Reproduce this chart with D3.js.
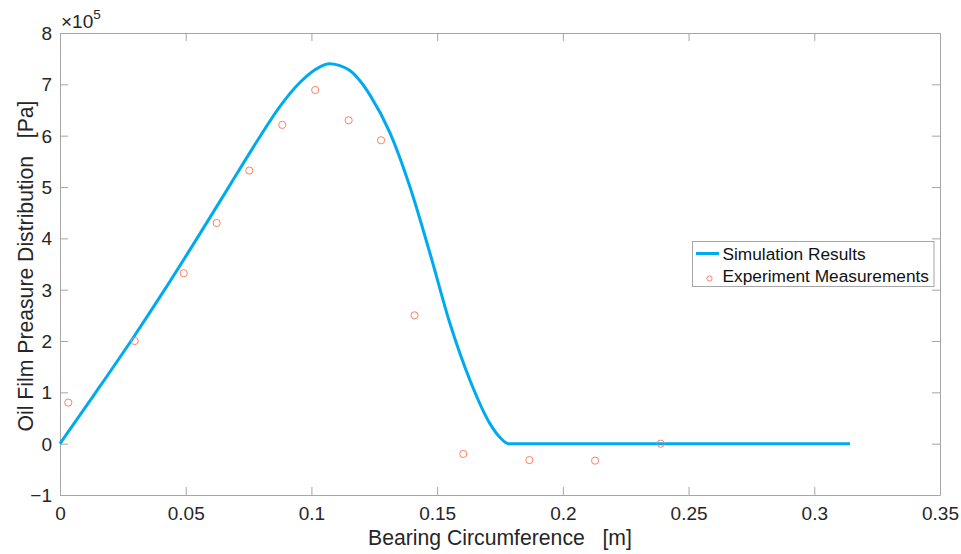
<!DOCTYPE html>
<html>
<head>
<meta charset="utf-8">
<script src="https://cdn.jsdelivr.net/npm/d3@7"></script>
<style>
  body { margin: 0; background: #fff; }
  svg { display: block; font-family: "Liberation Sans", Arial, Helvetica, sans-serif; }
  text { white-space: pre; }
</style>
</head>
<body>
<svg id="chart" width="961" height="554"></svg>
<script>
// Simulation curve (x in m, pressure in ×10^5 Pa)
const simX = [0, 0.0141, 0.0285, 0.0415, 0.0540, 0.0660, 0.0730, 0.0795, 0.0875, 0.0955, 0.1034, 0.1070, 0.1110, 0.1153, 0.1193, 0.1233, 0.1312, 0.1392, 0.1472, 0.1551, 0.1631, 0.1710, 0.1750, 0.1783, 0.3142];
const simY = [0, 0.99, 2.02, 2.99, 3.96, 4.91, 5.47, 5.98, 6.57, 7.04, 7.34, 7.40, 7.37, 7.27, 7.07, 6.79, 6.06, 5.00, 3.70, 2.34, 1.23, 0.39, 0.12, 0, 0];
// Experiment measurements
const expX = [0.0033, 0.0297, 0.0492, 0.0623, 0.0753, 0.0884, 0.1015, 0.1148, 0.1277, 0.1410, 0.1604, 0.1867, 0.2128, 0.2389];
const expY = [0.80, 2.00, 3.32, 4.30, 5.32, 6.21, 6.89, 6.30, 5.91, 2.50, -0.20, -0.32, -0.33, 0.00];
// Axis ticks
const xTicks = [0, 0.05, 0.1, 0.15, 0.2, 0.25, 0.3, 0.35];
const yTicks = [-1, 0, 1, 2, 3, 4, 5, 6, 7, 8];
const seriesNames = ["Simulation Results", "Experiment Measurements"];

const svg = d3.select("#chart");
const L = 60, R = 940, T = 33, B = 495;
const x = d3.scaleLinear().domain([0, 0.35]).range([L, R]);
const y = d3.scaleLinear().domain([-1, 8]).range([B, T]);
const axisColor = "#a6a6a6";
const textColor = "#262626";
const lineColor = "#00aaf0";
const markColor = "#ff7f66";

// axes with inward ticks
const gx = svg.append("g").attr("transform", `translate(0,${B})`)
  .call(d3.axisBottom(x).tickValues(xTicks).tickSizeInner(-8).tickSizeOuter(0).tickPadding(12)
    .tickFormat(d => d === 0 ? "0" : d3.format("")(+d.toFixed(2))));
const gxt = svg.append("g").attr("transform", `translate(0,${T})`)
  .call(d3.axisTop(x).tickValues(xTicks).tickSizeInner(-8).tickSizeOuter(0).tickFormat(""));
const gy = svg.append("g").attr("transform", `translate(${L},0)`)
  .call(d3.axisLeft(y).tickValues(yTicks).tickSizeInner(-8).tickSizeOuter(0).tickPadding(8).tickFormat(d3.format("d")));
const gyr = svg.append("g").attr("transform", `translate(${R},0)`)
  .call(d3.axisRight(y).tickValues(yTicks).tickSizeInner(-8).tickSizeOuter(0).tickFormat(""));

[gx, gxt, gy, gyr].forEach(g => {
  g.selectAll("path.domain").attr("stroke", axisColor).attr("stroke-width", 1);
  g.selectAll(".tick line").attr("stroke", axisColor).attr("stroke-width", 1);
  g.selectAll(".tick text").attr("fill", textColor).style("font-size", "19px")
    .style("font-family", '"Liberation Sans", Arial, Helvetica, sans-serif');
});
gx.selectAll(".tick text").attr("dy", "0.71em");
gy.selectAll(".tick text").attr("dy", "0.35em");

// exponent label
const expo = svg.append("text").attr("x", 61).attr("y", 28).attr("fill", textColor).style("font-size", "19px");
expo.append("tspan").text("\u00d710");
expo.append("tspan").attr("dy", -9).style("font-size", "13.5px").text("5");

// axis labels
svg.append("text").attr("x", (L + R) / 2).attr("y", 545).attr("text-anchor", "middle")
  .attr("fill", textColor).style("font-size", "21.2px").text("Bearing Circumference   [m]");
svg.append("text").attr("transform", `translate(33,266) rotate(-90)`).attr("text-anchor", "middle")
  .attr("fill", textColor).style("font-size", "21.2px").text("Oil Film Preasure Distribution   [Pa]");

// simulation line
const simData = simX.map((d, i) => [d, simY[i]]);
svg.append("path").datum(simData)
  .attr("fill", "none").attr("stroke", lineColor).attr("stroke-width", 3)
  .attr("stroke-linejoin", "round")
  .attr("d", d3.line().x(d => x(d[0])).y(d => y(d[1])).curve(d3.curveMonotoneX));

// measurement markers
svg.append("g").selectAll("circle").data(expX.map((d, i) => [d, expY[i]])).join("circle")
  .attr("cx", d => x(d[0])).attr("cy", d => y(d[1])).attr("r", 3.6)
  .attr("fill", "none").attr("stroke", markColor).attr("stroke-width", 1);

// legend
const lg = svg.append("g");
lg.append("rect").attr("x", 692.5).attr("y", 241.5).attr("width", 241.5).attr("height", 45)
  .attr("fill", "#fff").attr("stroke", axisColor).attr("stroke-width", 1);
lg.append("line").attr("x1", 696).attr("x2", 719).attr("y1", 253.5).attr("y2", 253.5)
  .attr("stroke", lineColor).attr("stroke-width", 3);
lg.append("circle").attr("cx", 709.5).attr("cy", 278.5).attr("r", 2.6)
  .attr("fill", "none").attr("stroke", markColor).attr("stroke-width", 1);
lg.append("text").attr("x", 722.5).attr("y", 259.5).attr("fill", "#111").style("font-size", "17.3px").text(seriesNames[0]);
lg.append("text").attr("x", 722.5).attr("y", 281.5).attr("fill", "#111").style("font-size", "17.3px").text(seriesNames[1]);
</script>
</body>
</html>
